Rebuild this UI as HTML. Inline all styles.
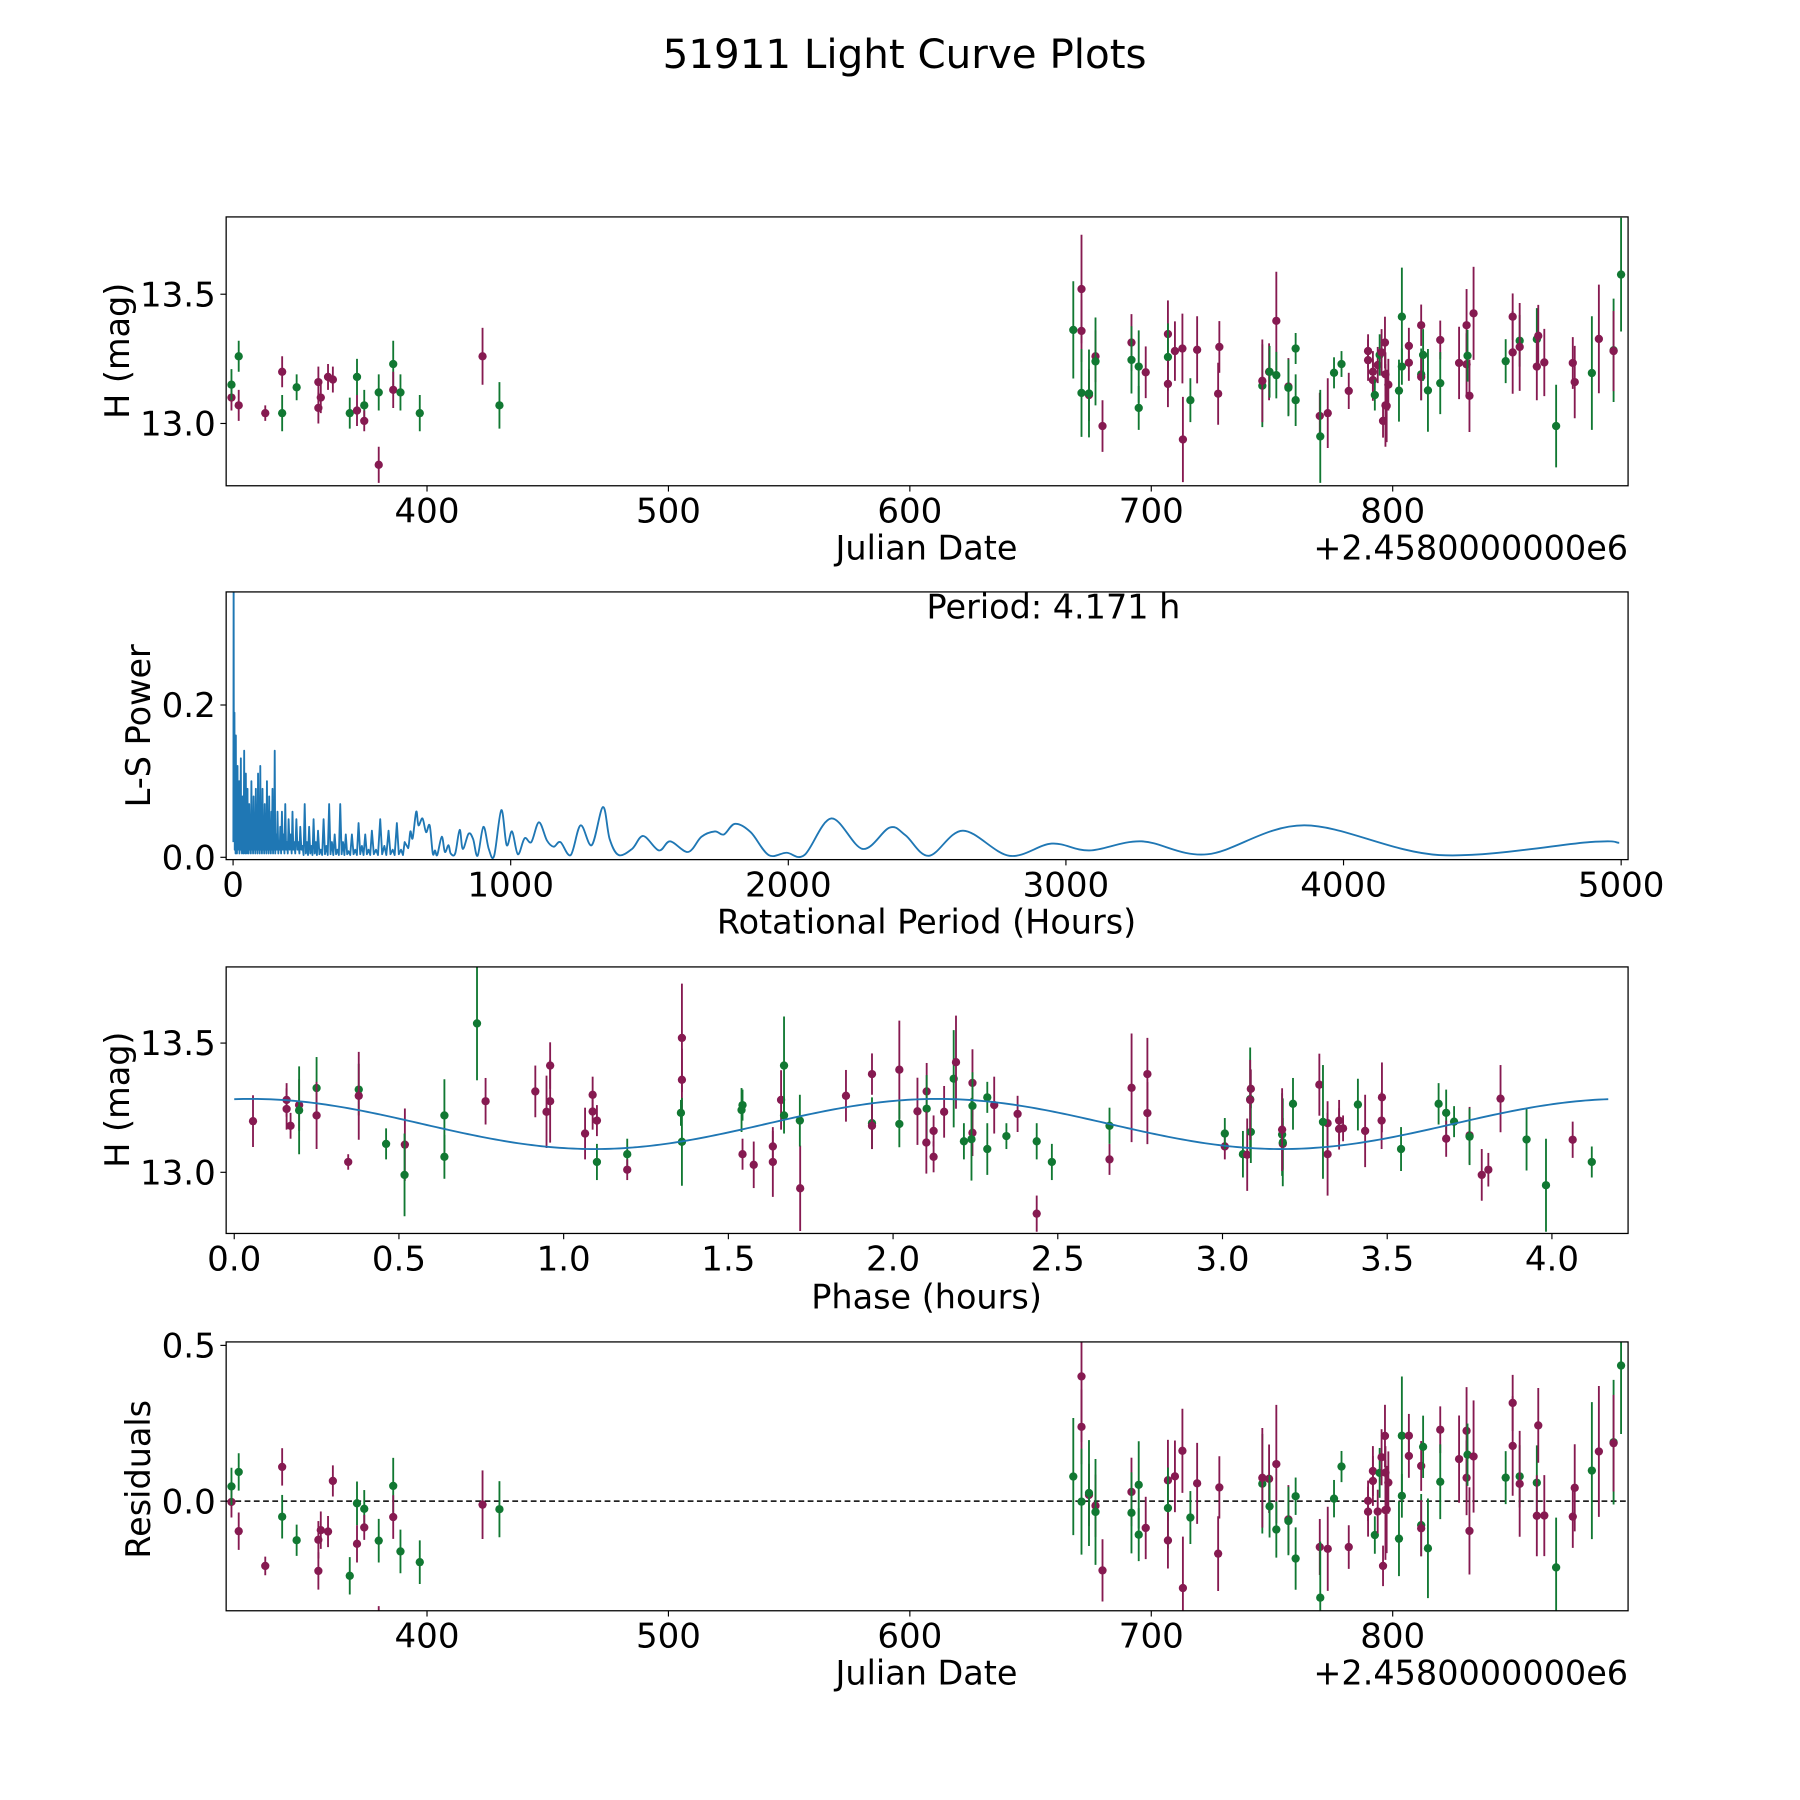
<!DOCTYPE html>
<html><head><meta charset="utf-8"><title>51911 Light Curve Plots</title>
<style>html,body{margin:0;padding:0;background:#fff}svg{display:block}text{font-family:"DejaVu Sans","Liberation Sans",sans-serif;fill:#000}</style>
</head><body>
<svg id="fig" xmlns="http://www.w3.org/2000/svg" width="1800" height="1800" viewBox="0 0 1560 1560">
<rect width="1560" height="1560" fill="#fff"/>
<text x="784" y="59" font-size="35" text-anchor="middle">51911 Light Curve Plots</text>
<g id="p1"></g>
<g id="p2"></g>
<g id="p3"></g>
<g id="p4"></g>
</svg>
<script>
// ---- data ----
const dates=[319,319,322,322,333,340,340,346,355,355,356,359,361,368,371,371,374,374,380,380,386,386,389,397,423,430,
667.7,671.1,671.1,671.1,674.2,674.2,676.9,676.9,679.8,691.8,691.8,694.8,694.8,697.7,706.9,706.9,706.9,709.8,712.9,713.1,716.2,719,727.7,728.2,
746,746,748.8,749,751.8,751.8,756.8,756.8,759.8,759.8,769.8,770,773.1,775.7,778.8,781.8,789.8,789.8,791.8,791.8,792.6,793.8,794.6,795.4,796.8,796,797,797,797.5,798.2,
802.6,803.8,803.8,806.7,806.7,811.8,811.8,811.8,812.6,814.6,819.7,819.7,827.5,830.6,830.6,831,831.8,833.5,846.8,849.7,849.7,852.6,852.6,859.7,859.7,860.3,862.8,867.7,874.6,875.4,882.5,885.4,891.5,891.5,894.6];
const mags=[13.10,13.15,13.07,13.26,13.04,13.20,13.04,13.14,13.16,13.06,13.10,13.18,13.17,13.04,13.05,13.18,13.07,13.01,13.12,12.84,13.23,13.13,13.12,13.04,13.26,13.07,
13.362,13.52,13.358,13.118,13.11,13.116,13.26,13.24,12.99,13.313,13.246,13.22,13.06,13.198,13.346,13.257,13.153,13.28,13.29,12.938,13.09,13.285,13.115,13.296,
13.146,13.165,13.2,13.2,13.397,13.187,13.143,13.138,13.29,13.09,13.029,12.95,13.04,13.196,13.23,13.126,13.28,13.245,13.2,13.168,13.11,13.226,13.265,13.275,13.313,13.01,13.19,13.07,13.068,13.15,
13.127,13.413,13.22,13.3,13.235,13.38,13.19,13.18,13.265,13.128,13.323,13.156,13.234,13.38,13.229,13.262,13.107,13.426,13.241,13.413,13.275,13.32,13.296,13.326,13.22,13.339,13.236,12.99,13.234,13.16,13.195,13.327,13.283,13.28,13.576];
const errs=[.05,.06,.06,.06,.03,.06,.07,.05,.06,.06,.06,.05,.05,.06,.06,.07,.06,.04,.07,.07,.09,.07,.07,.07,.11,.09,
.188,.21,.12,.17,.1,.17,.1,.17,.1,.11,.13,.14,.085,.1,.13,.13,.09,.115,.135,.165,.085,.13,.12,.1,
.16,.16,.11,.1,.19,.09,.11,.11,.06,.1,.09,.18,.135,.06,.05,.07,.065,.08,.08,.08,.06,.07,.08,.09,.1,.065,.085,.16,.14,.1,
.12,.19,.07,.07,.07,.08,.1,.09,.1,.16,.075,.12,.14,.14,.12,.1,.14,.18,.085,.09,.16,.1,.17,.12,.13,.12,.13,.16,.1,.14,.22,.21,.2,.155,.22];
const filters="mgmgmmggmmmmmgmggmgmgmggmg"+"gmmgmgmgmmgggmmgmmmmgmmmgm"+"mgmgmgggmgmggmmmmmgmgmmmmmmmgg"+"gmmmgmggmgmmmgmmgmmgmgmmmgmmgmgmg";
// periodogram data
const lsPeriods=[1,2,3,5,6,8,9,10,11,13,14,16,17,19,20,22,23,25,26,28,29,31,32,34,35,37,38,40,41,43,44,46,47,49,50,52,53,55,56,58,60,62,64,66,68,70,72,74,76,78,80,82,84,86,88,90,92,94,96,98,100,102,104,106,108,110,112,114,116,118,120,122,124,126,128,130,132,134,136,138,140,142,144,146,148,150,152,155,158,160,163,165,168,170,173,176,179,182,185,188,191,194,197,200,204,207,211,214,217,220,224,228,232,235,239,242,246,250,254,258,262,266,270,274,278,282,286,290,294,298,302,306,311,316,321,326,331,336,341,346,351,356,361,366,371,376,381,386,391,396,401,406,411,416,422,428,434,440,446,452,458,464,470,476,482,488,494,500,507,515,522,530,537,545,552,560,567,575,582,590,597,605,612,618,
630.7,638.7,646.8,659.7,667.8,682.3,695.2,708.1,719.4,727.5,735.5,751.7,763,775.9,783.9,800,816.2,827.5,848.4,864.6,880.7,901.7,921,940.4,966.2,985.5,1004.9,1025.9,1050.1,1074.3,1101.7,1130.7,1154.9,1179.1,1216.2,1251.7,1292,1332.3,1356.5,1388.8,1437.2,1477.5,1533.9,1574.3,1638.8,1687.2,1735.6,1767.8,1808.2,1864.6,1929.1,1993.7,2058.2,2155,2267.9,2364.7,2422,2507,2629,2796,2949,3085,3272,3510,3859,4344,4888,4993];
const lsPowers=[0.02,0.40,0.03,0.19,0.01,0.05,0.005,0.16,0.01,0.04,0.005,0.12,0.01,0.03,0.01,0.10,0.005,0.02,0.01,0.13,0.01,0.05,0.005,0.08,0.01,0.03,0.005,0.14,0.01,0.06,0.005,0.11,0.01,0.04,0.005,0.09,0.01,0.03,0.005,0.07,0.01,0.04,0.005,0.10,0.01,0.05,0.005,0.08,0.01,0.03,0.005,0.09,0.01,0.05,0.005,0.11,0.01,0.04,0.005,0.12,0.01,0.06,0.005,0.09,0.01,0.04,0.005,0.07,0.01,0.03,0.005,0.10,0.01,0.05,0.005,0.08,0.01,0.03,0.005,0.06,0.01,0.09,0.005,0.04,0.01,0.14,0.005,0.03,0.01,0.06,0.005,0.02,0.01,0.04,0.005,0.06,0.01,0.03,0.005,0.07,0.01,0.02,0.005,0.05,0.01,0.03,0.005,0.06,0.01,0.02,0.005,0.05,0.01,0.02,0.005,0.04,0.01,0.015,0.003,0.07,0.005,0.02,0.003,0.04,0.005,0.015,0.003,0.05,0.005,0.02,0.003,0.035,0.004,0.01,0.003,0.05,0.004,0.015,0.003,0.07,0.004,0.02,0.003,0.03,0.004,0.01,0.003,0.07,0.004,0.02,0.003,0.03,0.004,0.008,0.003,0.03,0.004,0.01,0.003,0.045,0.004,0.015,0.003,0.03,0.004,0.01,0.003,0.035,0.004,0.01,0.003,0.05,0.004,0.015,0.003,0.035,0.004,0.01,0.003,0.045,0.004,0.01,0.003,0.02,
0.012,0.034,0.025,0.060,0.042,0.051,0.033,0.042,0.005,0.009,0.003,0.027,0.007,0.016,0.005,0.005,0.036,0.011,0.031,0.024,0.002,0.040,0.011,0.002,0.062,0.016,0.034,0.004,0.025,0.020,0.046,0.022,0.014,0.020,0.003,0.042,0.016,0.066,0.024,0.003,0.011,0.028,0.009,0.021,0.007,0.027,0.034,0.030,0.044,0.033,0.003,0.006,0.003,0.051,0.011,0.039,0.029,0.002,0.035,0.002,0.018,0.009,0.021,0.004,0.042,0.003,0.020,0.019];
const periodHours=4.171;
const p1xTicks=[400,500,600,700,800], magTicks=[13.0,13.5], lsXTicks=[0,1000,2000,3000,4000,5000], lsYTicks=[0.0,0.2];
const phaseTicks=[0,0.5,1,1.5,2,2.5,3,3.5,4], resTicks=[0.0,0.5];

const NS="http://www.w3.org/2000/svg";
const MAROON="#861a51", GREEN="#117832", BLUE="#1f77b4";
function mk(tag,attrs,parent){const e=document.createElementNS(NS,tag);for(const k in attrs)e.setAttribute(k,attrs[k]);parent.appendChild(e);return e;}
function lin(d0,d1,r0,r1){return v=>r0+(v-d0)*(r1-r0)/(d1-d0);}
function model(ph){return 13.187+0.097*Math.cos(2*Math.PI*(ph-0.05)/(periodHours/2));}
function phaseOf(d){let p=((d-316)*24*1.37+0.3)%periodHours;return p<0?p+periodHours:p;}

function frame(g,L,T,R,B,clipId){
  const cp=mk('clipPath',{id:clipId},g);mk('rect',{x:L,y:T,width:R-L,height:B-T},cp);
}
function border(g,L,T,R,B){const r=mk('rect',{x:L,y:T,width:R-L,height:B-T,fill:'none',stroke:'#000','stroke-width':1.1},g);

}
function xTicks(g,ticks,sx,B,fmt,name){ticks.forEach(t=>{const x=sx(t);
 const l=mk('line',{x1:x,x2:x,y1:B,y2:B+5,stroke:'#000','stroke-width':1},g);
 
 
 const tx=mk('text',{x:x,y:B+32,'font-size':29.5,'text-anchor':'middle'},g);tx.textContent=fmt(t);
 
 });}
function yTicks(g,ticks,sy,L,fmt,name){ticks.forEach(t=>{const y=sy(t);
 const l=mk('line',{x1:L-5,x2:L,y1:y,y2:y,stroke:'#000','stroke-width':1},g);
 
 
 const tx=mk('text',{x:L-9,y:y+10.5,'font-size':29.5,'text-anchor':'end'},g);tx.textContent=fmt(t);
 
 });}
function label(g,txt,x,y,rot,name,anchor){const t=mk('text',{x:x,y:y,'font-size':29,'text-anchor':anchor||'middle'},g);
 if(rot)t.setAttribute('transform',`rotate(-90 ${x} ${y})`);t.textContent=txt;
 
 }
function points(g,xs,ys,es,clip,sx,sy){const pg=mk('g',{'clip-path':`url(#${clip})`},g);
 xs.forEach((xv,i)=>{const c=filters[i]==='g'?GREEN:MAROON;const x=sx(xv),y=sy(ys[i]);
  const eb=mk('line',{x1:x,x2:x,y1:sy(ys[i]+es[i]),y2:sy(ys[i]-es[i]),stroke:c,'stroke-width':1.6},pg);
  
  
  const p=mk('circle',{cx:x,cy:y,r:3.6,fill:c},pg);
  
  });}

// Panel 1
(function(){const g=document.getElementById('p1');const L=196,T=188,R=1411,B=421;
 const sx=lin(316.8,897.5,L,R), sy=lin(12.759,13.799,B,T);frame(g,L,T,R,B,'c1');
 points(g,dates,mags,errs,'c1',sx,sy);border(g,L,T,R,B);
 xTicks(g,p1xTicks,sx,B,t=>String(t),'x-axis');yTicks(g,magTicks,sy,L,t=>t.toFixed(1),'y-axis');
 label(g,'Julian Date',803,485,false,'x-axis-title');label(g,'+2.4580000000e6',1411,485,false,'x-axis-offset','end');
 label(g,'H (mag)',112,304,true,'y-axis-title');})();

// Panel 2
(function(){const g=document.getElementById('p2');const L=196,T=513,R=1411,B=745;
 const sx=lin(0,5000,202,1405), sy=lin(0,0.2,743,611);frame(g,L,T,R,B,'c2');
 const pts=lsPeriods.map((p,i)=>[sx(p),sy(lsPowers[i])]);
 let d='M'+pts[0][0]+','+pts[0][1];const nIdx=lsPeriods.indexOf(618);
 for(let i=1;i<pts.length;i++){if(i<=nIdx+1){d+='L'+pts[i][0].toFixed(2)+','+pts[i][1].toFixed(2);}else{
  const p0=pts[i-2]||pts[i-1],p1=pts[i-1],p2=pts[i],p3=pts[i+1]||pts[i];
  const c1=[p1[0]+(p2[0]-p0[0])/6,p1[1]+(p2[1]-p0[1])/6],c2=[p2[0]-(p3[0]-p1[0])/6,p2[1]-(p3[1]-p1[1])/6];
  d+=`C${c1[0].toFixed(2)},${c1[1].toFixed(2)} ${c2[0].toFixed(2)},${c2[1].toFixed(2)} ${p2[0].toFixed(2)},${p2[1].toFixed(2)}`;}}
 const path=mk('path',{d:d,fill:'none',stroke:BLUE,'stroke-width':1.6,'stroke-linejoin':'round','clip-path':'url(#c2)'},g);
 
 
 border(g,L,T,R,B);
 xTicks(g,lsXTicks,sx,B,t=>String(t),'ls-x-axis');yTicks(g,lsYTicks,sy,L,t=>t.toFixed(1),'ls-y-axis');
 label(g,'Rotational Period (Hours)',803,809,false,'ls-x-axis-title');label(g,'L-S Power',130,629,true,'ls-y-axis-title');
 label(g,'Period: 4.171 h',913,536,false,'period-annotation');})();

// Panel 3
(function(){const g=document.getElementById('p3');const L=196,T=838,R=1411,B=1069;
 const sx=lin(0,4,203,1345), sy=lin(13.0,13.5,1016,904);frame(g,L,T,R,B,'c3');
 const phases=dates.map(phaseOf);
 points(g,phases,mags,errs,'c3',sx,sy);
 let d='';for(let k=0;k<=300;k++){const ph=k*periodHours/300;d+=(k?'L':'M')+sx(ph).toFixed(2)+','+sy(model(ph)).toFixed(2);}
 const m=mk('path',{d:d,fill:'none',stroke:BLUE,'stroke-width':1.6,'clip-path':'url(#c3)'},g);
 
 
 border(g,L,T,R,B);
 xTicks(g,phaseTicks,sx,B,t=>t.toFixed(1),'phase-x-axis');yTicks(g,magTicks,sy,L,t=>t.toFixed(1),'phase-y-axis');
 label(g,'Phase (hours)',803,1134,false,'phase-x-axis-title');label(g,'H (mag)',112,953,true,'phase-y-axis-title');})();

// Panel 4
(function(){const g=document.getElementById('p4');const L=196,T=1163,R=1411,B=1396;
 const sx=lin(316.8,897.5,L,R), sy=lin(0,0.5,1301,1166);frame(g,L,T,R,B,'c4');
 const res=dates.map((d,i)=>mags[i]-model(phaseOf(d)));
 const z=mk('line',{x1:L,x2:R,y1:sy(0),y2:sy(0),stroke:'#000','stroke-width':1.3,'stroke-dasharray':'5,3'},g);
 
 
 points(g,dates,res,errs,'c4',sx,sy);border(g,L,T,R,B);
 xTicks(g,p1xTicks,sx,B,t=>String(t),'res-x-axis');yTicks(g,resTicks,sy,L,t=>t.toFixed(1),'res-y-axis');
 label(g,'Julian Date',803,1460,false,'res-x-axis-title');label(g,'+2.4580000000e6',1411,1460,false,'res-x-axis-offset','end');
 label(g,'Residuals',130,1282,true,'res-y-axis-title');})();
</script>
</body></html>
